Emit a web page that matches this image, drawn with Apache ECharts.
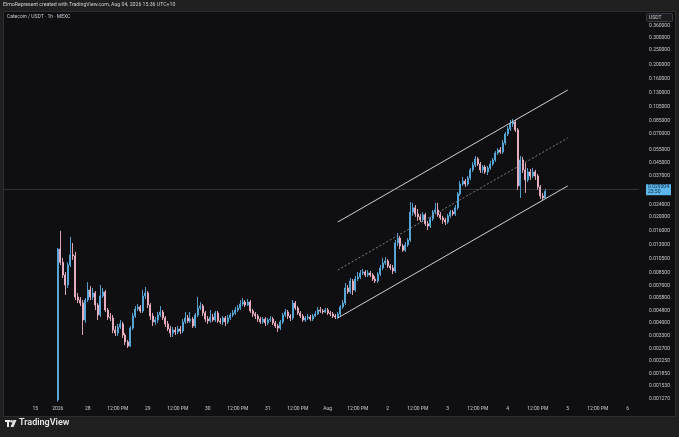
<!DOCTYPE html>
<html><head><meta charset="utf-8">
<script src="https://cdn.jsdelivr.net/npm/echarts@6/dist/echarts.min.js"></script>
<style>html,body{margin:0;padding:0;background:#1f1f1f;}#c{width:679px;height:437px;}</style>
</head><body><div id="c"></div>
<script>
// ---- data (hourly candles, 1h, Catecoin / USDT, MEXC) ----
const firstCandleHour = 21;   // hour index of first candle on the time scale
const hourCount = 254;        // hours shown on the time scale (incl. empty future space)
const opens = [
0.00124,0.0122,0.0100,0.00824,0.00709,0.00959,0.0112,0.0110,0.00591,0.00564,
0.00539,0.00417,0.00564,0.00657,0.00591,0.00628,0.00523,0.00450,0.00600,0.00638,
0.00485,0.00436,0.00430,0.00358,0.00342,0.00375,0.00393,0.00332,0.00299,0.00281,
0.00369,0.00443,0.00493,0.00508,0.00478,0.00600,0.00628,0.00523,0.00443,0.00405,
0.00417,0.00450,0.00471,0.00430,0.00393,0.00364,0.00342,0.00358,0.00348,0.00364,
0.00353,0.00405,0.00430,0.00411,0.00423,0.00381,0.00450,0.00500,0.00515,0.00464,
0.00423,0.00411,0.00436,0.00417,0.00464,0.00411,0.00405,0.00430,0.00405,0.00430,
0.00450,0.00464,0.00485,0.00500,0.00531,0.00547,0.00523,0.00547,0.00478,0.00457,
0.00443,0.00423,0.00405,0.00423,0.00399,0.00417,0.00423,0.00399,0.00381,0.00369,
0.00405,0.00450,0.00471,0.00443,0.00430,0.00539,0.00500,0.00464,0.00443,0.00417,
0.00430,0.00436,0.00423,0.00443,0.00457,0.00485,0.00478,0.00471,0.00485,0.00464,
0.00457,0.00443,0.00436,0.00457,0.00508,0.00539,0.00677,0.00638,0.00753,0.00657,
0.00776,0.00800,0.00849,0.00862,0.00824,0.00849,0.00824,0.00776,0.00753,0.00837,
0.00917,0.00989,0.0102,0.00945,0.00917,0.00876,0.0134,0.0144,0.0128,0.0120,
0.0130,0.0140,0.0214,0.0228,0.0208,0.0199,0.0190,0.0205,0.0179,0.0173,
0.0193,0.0214,0.0221,0.0205,0.0196,0.0190,0.0184,0.0202,0.0214,0.0208,
0.0228,0.0281,0.0327,0.0342,0.0327,0.0358,0.0405,0.0436,0.0478,0.0443,
0.0405,0.0423,0.0393,0.0417,0.0443,0.0471,0.0523,0.0548,0.0531,0.0609,
0.0698,0.0753,0.0812,0.0837,0.0742,0.0318,0.0471,0.0405,0.0348,0.0393,
0.0369,0.0393,0.0369,0.0313,0.0273,0.0265];
const closes = [
0.0122,0.0100,0.00824,0.00709,0.00959,0.0112,0.0110,0.00591,0.00564,0.00539,
0.00417,0.00564,0.00657,0.00591,0.00628,0.00523,0.00450,0.00600,0.00638,0.00485,
0.00436,0.00430,0.00358,0.00342,0.00375,0.00393,0.00332,0.00299,0.00281,0.00369,
0.00443,0.00493,0.00508,0.00478,0.00600,0.00628,0.00523,0.00443,0.00405,0.00417,
0.00450,0.00471,0.00430,0.00393,0.00364,0.00342,0.00358,0.00348,0.00364,0.00353,
0.00405,0.00430,0.00411,0.00423,0.00381,0.00450,0.00500,0.00515,0.00464,0.00423,
0.00411,0.00436,0.00417,0.00464,0.00411,0.00405,0.00430,0.00405,0.00430,0.00450,
0.00464,0.00485,0.00500,0.00531,0.00547,0.00523,0.00547,0.00478,0.00457,0.00443,
0.00423,0.00405,0.00423,0.00399,0.00417,0.00423,0.00399,0.00381,0.00369,0.00405,
0.00450,0.00471,0.00443,0.00430,0.00539,0.00500,0.00464,0.00443,0.00417,0.00430,
0.00436,0.00423,0.00443,0.00457,0.00485,0.00478,0.00471,0.00485,0.00464,0.00457,
0.00443,0.00436,0.00457,0.00508,0.00539,0.00677,0.00638,0.00753,0.00657,0.00776,
0.00800,0.00849,0.00862,0.00824,0.00849,0.00824,0.00776,0.00753,0.00837,0.00917,
0.00989,0.0102,0.00945,0.00917,0.00876,0.0134,0.0144,0.0128,0.0120,0.0130,
0.0140,0.0214,0.0228,0.0208,0.0199,0.0190,0.0205,0.0179,0.0173,0.0193,
0.0214,0.0221,0.0205,0.0196,0.0190,0.0184,0.0202,0.0214,0.0208,0.0228,
0.0281,0.0327,0.0342,0.0327,0.0358,0.0405,0.0436,0.0478,0.0443,0.0405,
0.0423,0.0393,0.0417,0.0443,0.0471,0.0523,0.0548,0.0531,0.0609,0.0698,
0.0753,0.0812,0.0837,0.0742,0.0318,0.0471,0.0405,0.0348,0.0393,0.0369,
0.0393,0.0369,0.0313,0.0273,0.0265,0.029304];
const highs = [
0.0124,0.0161,0.0107,0.00862,0.0100,0.0147,0.0134,0.0117,0.00628,0.00591,
0.00564,0.00582,0.00741,0.00698,0.00677,0.00647,0.00539,0.00709,0.00677,0.00657,
0.00500,0.00464,0.00450,0.00381,0.00393,0.00417,0.00405,0.00342,0.00308,0.00381,
0.00464,0.00515,0.00531,0.00523,0.00657,0.00688,0.00647,0.00539,0.00464,0.00436,
0.00471,0.00515,0.00485,0.00443,0.00411,0.00381,0.00375,0.00375,0.00381,0.00381,
0.00423,0.00471,0.00450,0.00471,0.00436,0.00464,0.00591,0.00547,0.00531,0.00478,
0.00443,0.00485,0.00457,0.00478,0.00478,0.00430,0.00443,0.00443,0.00450,0.00464,
0.00485,0.00508,0.00523,0.00564,0.00582,0.00564,0.00573,0.00564,0.00493,0.00471,
0.00457,0.00436,0.00436,0.00436,0.00430,0.00443,0.00436,0.00411,0.00393,0.00417,
0.00464,0.00493,0.00485,0.00457,0.00564,0.00556,0.00515,0.00478,0.00457,0.00443,
0.00457,0.00450,0.00457,0.00478,0.00508,0.00508,0.00493,0.00500,0.00500,0.00478,
0.00471,0.00457,0.00471,0.00523,0.00564,0.00730,0.00709,0.00788,0.00776,0.00812,
0.00862,0.00889,0.00903,0.00889,0.00889,0.00876,0.00849,0.00812,0.00862,0.00959,
0.0107,0.0108,0.0105,0.00974,0.00959,0.0140,0.0156,0.0149,0.0132,0.0136,
0.0144,0.0249,0.0246,0.0238,0.0224,0.0208,0.0214,0.0211,0.0187,0.0199,
0.0221,0.0246,0.0246,0.0214,0.0202,0.0196,0.0208,0.0221,0.0221,0.0238,
0.0290,0.0342,0.0364,0.0353,0.0369,0.0417,0.0457,0.0500,0.0493,0.0457,
0.0436,0.0436,0.0430,0.0464,0.0485,0.0539,0.0564,0.0573,0.0637,0.0720,
0.0788,0.0863,0.0876,0.0863,0.0764,0.0500,0.0493,0.0450,0.0417,0.0411,
0.0417,0.0405,0.0381,0.0322,0.0286,0.0304];
const lows = [
0.00121,0.00959,0.00788,0.00609,0.00677,0.00931,0.01035,0.00564,0.00539,0.00515,
0.00332,0.00399,0.00547,0.00564,0.00564,0.00485,0.00417,0.00436,0.00582,0.00471,
0.00417,0.00411,0.00342,0.00327,0.00327,0.00364,0.00318,0.00285,0.00273,0.00277,
0.00358,0.00430,0.00478,0.00464,0.00464,0.00573,0.00500,0.00417,0.00381,0.00387,
0.00399,0.00436,0.00417,0.00375,0.00353,0.00322,0.00322,0.00332,0.00337,0.00337,
0.00342,0.00393,0.00399,0.00399,0.00369,0.00369,0.00436,0.00485,0.00443,0.00405,
0.00393,0.00399,0.00405,0.00405,0.00399,0.00393,0.00387,0.00381,0.00393,0.00417,
0.00436,0.00450,0.00471,0.00485,0.00515,0.00508,0.00515,0.00464,0.00436,0.00423,
0.00405,0.00393,0.00393,0.00381,0.00387,0.00405,0.00387,0.00369,0.00348,0.00358,
0.00393,0.00436,0.00423,0.00411,0.00417,0.00485,0.00450,0.00430,0.00405,0.00405,
0.00417,0.00411,0.00411,0.00436,0.00450,0.00464,0.00457,0.00464,0.00450,0.00443,
0.00430,0.00423,0.00423,0.00443,0.00493,0.00523,0.00619,0.00619,0.00609,0.00638,
0.00753,0.00776,0.00824,0.00800,0.00800,0.00800,0.00753,0.00730,0.00730,0.00812,
0.00889,0.00959,0.00917,0.00889,0.00837,0.00849,0.0128,0.0122,0.0117,0.0117,
0.0126,0.0136,0.0202,0.0199,0.0187,0.0184,0.0184,0.0173,0.0163,0.0168,
0.0187,0.0208,0.0199,0.0190,0.0179,0.0176,0.0179,0.0196,0.0202,0.0202,
0.0221,0.0273,0.0318,0.0313,0.0318,0.0348,0.0393,0.0423,0.0430,0.0387,
0.0387,0.0381,0.0375,0.0405,0.0430,0.0457,0.0508,0.0516,0.0516,0.0591,
0.0677,0.0731,0.0776,0.0720,0.0299,0.0265,0.0387,0.0286,0.0337,0.0348,
0.0358,0.0348,0.0299,0.0261,0.0253,0.0261];
const lastPrice = 0.029304;
const barCountdown = '23:50';
// time-scale tick labels (hour index -> text)
const tickHours  = [12,21,33,45,57,69,81,93,105,117,129,141,153,165,177,189,201,213,225,237,249];
const tickLabels = ['15','2026','28','12:00 PM','29','12:00 PM','30','12:00 PM','31','12:00 PM','Aug','12:00 PM','2','12:00 PM','3','12:00 PM','4','12:00 PM','5','12:00 PM','6'];
// price-scale tick labels
const priceTicks = [0.36,0.30,0.25,0.20,0.16,0.13,0.105,0.085,0.07,0.055,0.045,0.037,0.024,0.020,0.016,0.013,0.0105,0.0085,0.007,0.0058,0.0048,0.004,0.0033,0.0027,0.00225,0.00185,0.00153,0.00127];
const priceMin = 0.001204, priceMax = 0.443;
// parallel channel drawing (anchor hours and prices)
const channelHours = [133, 225];
const channelUpper = [0.0184, 0.1359];
const channelMiddle = [0.00889, 0.0657];
const channelLower = [0.00430, 0.0318];

// ---- build ----
const hours = [];
for (let i = 0; i < hourCount; i++) hours.push(String(i));
const candleData = hours.map((h, i) => {
  const k = i - firstCandleHour;
  if (k >= 0 && k < opens.length) return [opens[k], closes[k], lows[k], highs[k]];
  return '-';
});
const tickMap = {};
tickHours.forEach((h, i) => { tickMap[h] = tickLabels[i]; });
const chLine = (vals) => channelHours.map((h, i) => [h, vals[i]]);

const UP = '#5aaee0', DOWN = '#f2b5c7', TXT = '#c9cbd1';
const FONT = 'Roboto, "Liberation Sans", sans-serif';

const chart = echarts.init(document.getElementById('c'), null, {renderer: 'canvas'});
chart.setOption({
  backgroundColor: '#1f1f1f',
  animation: false,
  textStyle: {fontFamily: FONT},
  grid: {left: 4, right: 40, top: 12, bottom: 35},
  xAxis: {
    type: 'category', data: hours, boundaryGap: true,
    axisLine: {show: false}, axisTick: {show: false}, splitLine: {show: false},
    axisLabel: {
      interval: (idx) => tickMap[idx] !== undefined,
      formatter: (v, idx) => tickMap[idx] || '',
      color: TXT, fontSize: 5, margin: 4, fontFamily: FONT
    }
  },
  yAxis: {
    type: 'log', logBase: 10, min: priceMin, max: priceMax, position: 'right',
    axisLine: {show: false}, axisTick: {show: false}, splitLine: {show: false},
    axisLabel: {
      customValues: priceTicks,
      formatter: (v) => Number(v).toFixed(6),
      color: TXT, fontSize: 5, margin: 10, align: 'left', fontFamily: FONT,
      hideOverlap: false
    }
  },
  series: [
    {
      type: 'candlestick', data: candleData, barWidth: 1.6,
      itemStyle: {color: UP, color0: DOWN, borderColor: UP, borderColor0: DOWN, borderWidth: 0.9},
      markLine: {
        silent: true, symbol: ['none', 'none'],
        lineStyle: {color: 'rgba(110,115,130,0.35)', width: 1, type: 'solid'},
        label: {
          position: 'end', distance: 7,
          formatter: () => lastPrice.toFixed(6) + '\n' + barCountdown,
          backgroundColor: '#5cb6ea', color: '#0d2a40', fontSize: 5, lineHeight: 5,
          padding: [1, 2, 0, 2], fontFamily: FONT
        },
        data: [{yAxis: lastPrice}]
      },
      z: 3
    },
    {type: 'line', data: chLine(channelUpper), showSymbol: false, silent: true,
     lineStyle: {color: '#d0d0d4', width: 1}, z: 4},
    {type: 'line', data: chLine(channelMiddle), showSymbol: false, silent: true,
     lineStyle: {color: '#9a9aa0', width: 0.8, type: [2, 2]}, z: 4},
    {type: 'line', data: chLine(channelLower), showSymbol: false, silent: true,
     lineStyle: {color: '#d0d0d4', width: 1}, z: 4}
  ],
  graphic: [
    {type: 'rect', z: -10, shape: {x: 3.5, y: 11.5, width: 672, height: 405},
     style: {fill: '#0f0f12', stroke: '#2c2c31', lineWidth: 1}},
    {type: 'text', left: 3, top: 2, style: {text: 'ElmoRepresent created with TradingView.com, Aug 04, 2026 15:36 UTC+10', fill: '#d0d0d0', fontSize: 5.2, fontFamily: FONT}},
    {type: 'text', left: 7, top: 14, style: {text: 'Catecoin / USDT · 1h · MEXC', fill: '#c9cbd1', fontSize: 5, fontFamily: FONT}},
    {type: 'rect', shape: {x: 646.5, y: 13.5, width: 26, height: 8, r: 1},
     style: {fill: '#1b1b1f', stroke: '#3a3a40', lineWidth: 1}},
    {type: 'text', left: 649, top: 15, style: {text: 'USDT', fill: '#d0d0d0', fontSize: 5, fontFamily: FONT}},
    // TradingView logo
    {type: 'group', left: 5, top: 420, children: [
      {type: 'rect', shape: {x: 0, y: 0, width: 5, height: 2}, style: {fill: '#e6e6e6'}},
      {type: 'rect', shape: {x: 2, y: 0, width: 2, height: 7}, style: {fill: '#e6e6e6'}},
      {type: 'circle', shape: {cx: 6.5, cy: 1.3, r: 1.3}, style: {fill: '#e6e6e6'}},
      {type: 'polygon', shape: {points: [[8.5, 0], [11.5, 0], [8.5, 7], [5.5, 7]]}, style: {fill: '#e6e6e6'}}
    ]},
    {type: 'text', left: 19, top: 418, style: {text: 'TradingView', fill: '#e6e6e6', fontSize: 9, fontWeight: 600, fontFamily: FONT}}
  ]
});
</script></body></html>
